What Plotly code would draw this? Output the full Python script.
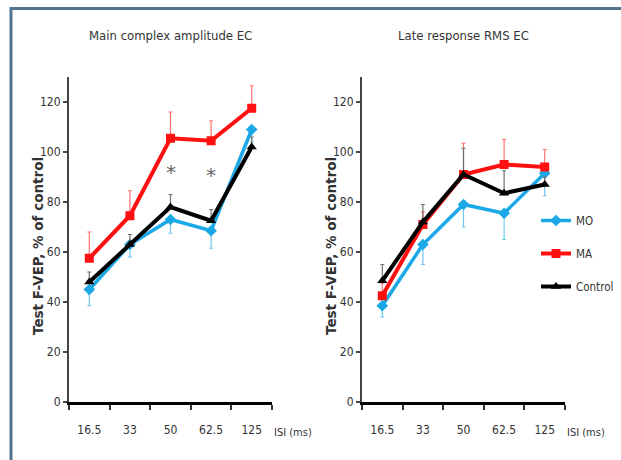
import plotly.graph_objects as go

W, H = 621, 460

categories = ["16.5", "33", "50", "62.5", "125"]
series_names = ["MO", "MA", "Control"]

# Main complex amplitude EC
main_mo = [45, 63, 73, 68.5, 109]
main_mo_err = [6.5, 5, 5.5, 7, 5]
main_ma = [57.5, 74.5, 105.5, 104.5, 117.5]
main_ma_err = [10.5, 10, 10.5, 8, 9]
main_ctrl = [48, 63, 78, 72.5, 102]
main_ctrl_err = [4, 4, 5, 4.5, 4]
main_sig = [None, None, 92, 91, None]

# Late response RMS EC
late_mo = [38.5, 63, 79, 75.5, 91.5]
late_mo_err = [4.5, 8, 9, 10.5, 9]
late_ma = [42.5, 71, 91, 95, 94]
late_ma_err = [5, 5, 12.5, 10, 7]
late_ctrl = [48.5, 72, 91, 83.5, 87]
late_ctrl_err = [6.5, 7, 10.5, 9, 3]

colors = {"MO": "#1AA8E6", "MA": "#FF1010", "Control": "#000000"}
err_colors = {"MO": "#6FC8F0", "MA": "#FF7070", "Control": "#707070"}
symbols = {"MO": "diamond", "MA": "square", "Control": "triangle-up"}

xpos = list(range(len(categories)))

fig = go.Figure()

def add_series(name, vals, err, direction, xa, ya, show):
    zeros = [0] * len(err)
    ey = dict(type="data", symmetric=False,
              array=err if direction == "up" else zeros,
              arrayminus=err if direction == "down" else zeros,
              color=err_colors[name], thickness=1.2, width=2)
    fig.add_trace(go.Scatter(
        x=xpos, y=vals, name=name, mode="lines+markers",
        line=dict(color=colors[name], width=3.5 if name == "MO" else 4),
        marker=dict(symbol=symbols[name], size=9, color=colors[name]),
        error_y=ey, xaxis=xa, yaxis=ya, showlegend=show,
        legendgroup=name))

add_series("MO", main_mo, main_mo_err, "down", "x", "y", True)
add_series("MA", main_ma, main_ma_err, "up", "x", "y", True)
add_series("Control", main_ctrl, main_ctrl_err, "up", "x", "y", True)
add_series("MO", late_mo, late_mo_err, "down", "x2", "y2", False)
add_series("MA", late_ma, late_ma_err, "up", "x2", "y2", False)
add_series("Control", late_ctrl, late_ctrl_err, "up", "x2", "y2", False)

for i, v in enumerate(main_sig):
    if v is not None:
        fig.add_annotation(x=xpos[i], y=v, xref="x", yref="y", text="*",
                           showarrow=False,
                           font=dict(size=20, color="#666666",
                                     family="DejaVu Sans"))

NARROW = "DejaVu Sans Condensed, Liberation Sans Narrow, sans-serif"
tickfont = dict(family=NARROW, size=12, color="#333333")

yt = [0, 20, 40, 60, 80, 100, 120]
yaxis_common = dict(range=[0, 130], tickvals=yt, ticktext=[str(v) for v in yt],
                    showgrid=False, zeroline=False, showline=True,
                    linecolor="#444444", linewidth=2, ticks="outside",
                    ticklen=4, tickcolor="#444444", tickwidth=1.5,
                    tickfont=tickfont)
xaxis_common = dict(range=[-0.5, 4.5], tickvals=xpos, ticktext=categories,
                    showgrid=False, zeroline=False, showline=True,
                    linecolor="#000000", linewidth=3, ticks="",
                    tickfont=tickfont, ticklabelstandoff=15,
                    minor=dict(tick0=-0.5, dtick=1, ticks="outside",
                               ticklen=5, tickcolor="#333333", tickwidth=1.5,
                               showgrid=False))

ydom = [1 - 402 / H, 1 - 77 / H]
fig.update_layout(
    width=W, height=H,
    paper_bgcolor="white", plot_bgcolor="white",
    margin=dict(l=0, r=0, t=0, b=0, autoexpand=False),
    xaxis=dict(domain=[69 / W, 272 / W], anchor="y", **xaxis_common),
    yaxis=dict(domain=ydom, anchor="x", **yaxis_common),
    xaxis2=dict(domain=[362 / W, 565 / W], anchor="y2", **xaxis_common),
    yaxis2=dict(domain=ydom, anchor="x2", **yaxis_common),
    legend=dict(x=536 / W, y=1 - 206 / H, xanchor="left", yanchor="top",
                bgcolor="rgba(0,0,0,0)", tracegroupgap=14, itemwidth=30,
                font=dict(family=NARROW, size=11.5, color="#333333")),
    showlegend=True,
)

ytitle = "<b>Test F-VEP, % of control</b>"
for xr, yr in [("x domain", "y domain"), ("x2 domain", "y2 domain")]:
    fig.add_annotation(x=0, y=0.48, xref=xr, yref=yr, xshift=-31,
                       textangle=-90, text=ytitle, showarrow=False,
                       xanchor="center", yanchor="middle",
                       font=dict(family="DejaVu Sans", size=13.5, color="#333333"))

titlefont = dict(family=NARROW, size=13, color="#333333")
fig.add_annotation(x=0.5, y=1 - 35 / H, xref="x domain", yref="paper",
                   yanchor="middle", text="Main complex amplitude EC",
                   showarrow=False, font=titlefont)
fig.add_annotation(x=0.5, y=1 - 35 / H, xref="x2 domain", yref="paper",
                   yanchor="middle", text="Late response RMS EC",
                   showarrow=False, font=titlefont)
for xr in ["x domain", "x2 domain"]:
    fig.add_annotation(x=1.0, y=1 - 432 / H, xref=xr, yref="paper",
                       xanchor="left", yanchor="middle", text="ISI (ms)",
                       showarrow=False,
                       font=dict(family=NARROW, size=11, color="#333333"))

border = "#52748F"
fig.add_shape(type="line", xref="paper", yref="paper", x0=11 / W, x1=1.0,
              y0=1 - 8.5 / H, y1=1 - 8.5 / H, line=dict(color=border, width=3))
fig.add_shape(type="line", xref="paper", yref="paper", x0=11 / W, x1=11 / W,
              y0=0, y1=1 - 7 / H, line=dict(color=border, width=3))

fig.write_html("out.html", config={"displayModeBar": False},
               post_script="document.body.style.margin='0';"
                           "document.body.style.overflow='hidden';")
